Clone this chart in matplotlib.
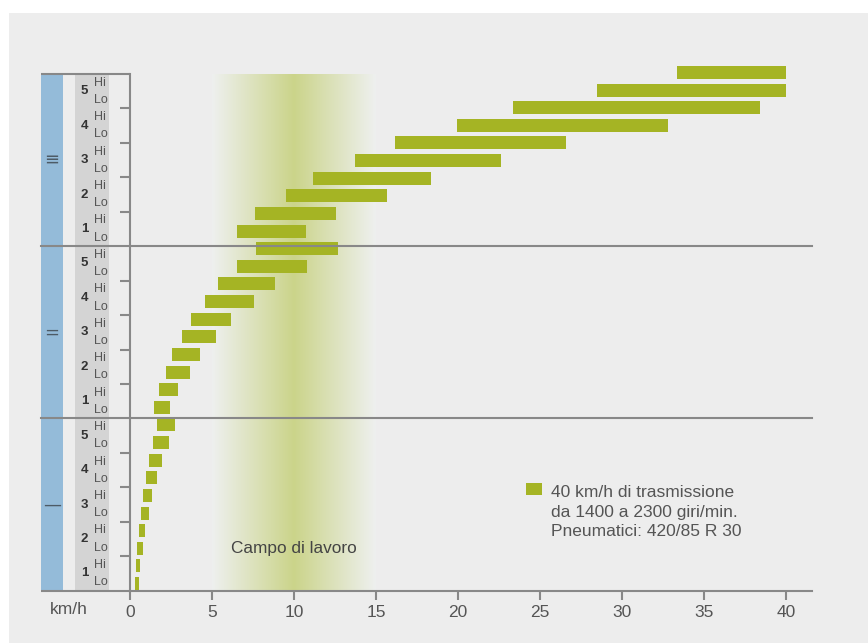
import numpy as np
import matplotlib
matplotlib.use("Agg")
import matplotlib.pyplot as plt
from matplotlib.patches import Rectangle
from matplotlib.colors import to_rgb

plt.rcParams['font.family'] = ['Liberation Sans', 'DejaVu Sans']

# velocita' (km/h) per ogni marcia, dal basso verso l'alto: gamma I, II, III; marce 1..5, Lo poi Hi
v_min = [0.30, 0.37, 0.43, 0.55, 0.67, 0.79, 0.98, 1.16, 1.40, 1.65,
         1.46, 1.77, 2.20, 2.56, 3.17, 3.72, 4.57, 5.37, 6.52, 7.68,
         6.54, 7.62, 9.50, 11.16, 13.72, 16.15, 19.94, 23.37, 28.48, 33.35]
v_max = [0.55, 0.61, 0.79, 0.91, 1.16, 1.34, 1.65, 1.95, 2.38, 2.74,
         2.44, 2.93, 3.66, 4.27, 5.24, 6.16, 7.56, 8.84, 10.79, 12.68,
         10.73, 12.56, 15.67, 18.35, 22.62, 26.60, 32.82, 38.41, 40.0, 40.0]
gamme = ['—', '=', '≡']
marce = ['1', '2', '3', '4', '5']
x_ticks = [0, 5, 10, 15, 20, 25, 30, 35, 40]
campo = (5, 10, 15)  # inizio, centro, fine del campo di lavoro
legenda = "40 km/h di trasmissione\nda 1400 a 2300 giri/min.\nPneumatici: 420/85 R 30"

verde = '#a5b424'
grigio = '#888888'
testo = '#555555'

W, H = 868, 643
fig = plt.figure(figsize=(W / 100, H / 100), dpi=100, facecolor='white')
fig.patches.append(Rectangle((9 / W, 0), 1, 1 - 13 / H, transform=fig.transFigure,
                             facecolor='#ededed', edgecolor='none', zorder=-10))

ax = fig.add_axes([130 / W, 52.3 / H, 682 / W, 516.7 / H])
ax.set_facecolor('none')
ax.set_xlim(0, 41.6)
ax.set_ylim(0, 30)

# campo di lavoro (sfumatura)
xs = np.linspace(campo[0], campo[2], 400)
t = 1 - np.abs(xs - campo[1]) / (campo[2] - campo[1])
c0 = np.array(to_rgb('#eef0ef'))
c1 = np.array(to_rgb('#cbd48a'))
grad = c0[None, :] * (1 - t[:, None]) + c1[None, :] * t[:, None]
ax.imshow(grad[None, :, :], extent=(campo[0], campo[2], 0, 30), aspect='auto',
          interpolation='bilinear', zorder=0)
ax.text(campo[1], 2.45, 'Campo di lavoro', ha='center', va='center',
        fontsize=12.4, color='#444444', zorder=3)

# barre
pos = 0.418 + np.arange(len(v_min)) * 1.0232
bars = ax.barh(pos, np.array(v_max) - np.array(v_min), left=v_min, height=0.755,
               color=verde, zorder=2)
for b in bars:
    b.set_clip_on(False)

# assi
for s in ['top', 'right']:
    ax.spines[s].set_visible(False)
for s in ['left', 'bottom']:
    ax.spines[s].set_color(grigio)
    ax.spines[s].set_linewidth(1.5)
ax.set_xticks(x_ticks)
ax.tick_params(axis='x', direction='out', length=6.5, width=1.5, color=grigio,
               labelsize=12.5, labelcolor=testo, pad=4)
ax.set_yticks([2, 4, 6, 8, 12, 14, 16, 18, 22, 24, 26, 28])
ax.set_yticklabels([])
ax.tick_params(axis='y', direction='out', length=7, width=1.5, color=grigio)

# pannello sinistro
x_left = (41 - 130) / 682
ax.add_patch(Rectangle((x_left, 0), (63 - 41) / 682, 1, transform=ax.transAxes,
                       facecolor='#94bbd9', edgecolor='none', clip_on=False, zorder=1))
ax.add_patch(Rectangle(((75 - 130) / 682, 0), (109 - 75) / 682, 1, transform=ax.transAxes,
                       facecolor='#d4d4d4', edgecolor='none', clip_on=False, zorder=1))
ax.plot([x_left, 0], [0, 0], transform=ax.transAxes, color=grigio, lw=1.5,
        clip_on=False, solid_capstyle='butt', zorder=4)
ax.plot([x_left, 0], [1, 1], transform=ax.transAxes, color=grigio, lw=1.5,
        clip_on=False, solid_capstyle='butt', zorder=4)
for y in [10, 20]:
    ax.axhline(y, xmin=x_left, xmax=1, color=grigio, lw=1.5, clip_on=False, zorder=4)

tr = ax.get_yaxis_transform()
for g, simbolo in enumerate(gamme):
    ax.text((52 - 130) / 682, 10 * g + 5, simbolo, transform=tr, ha='center', va='center',
            fontsize=13, color='#4d5b66', family=['DejaVu Sans'], clip_on=False)
    for m, nome in enumerate(marce):
        y0 = 10 * g + 2 * m
        ax.text((84.5 - 130) / 682, y0 + 1, nome, transform=tr, ha='center', va='center',
                fontsize=9.5, fontweight='bold', color='#333333')
        ax.text((94 - 130) / 682, y0 + 1.5, 'Hi', transform=tr, ha='left', va='center',
                fontsize=9, color=testo)
        ax.text((94 - 130) / 682, y0 + 0.5, 'Lo', transform=tr, ha='left', va='center',
                fontsize=9, color=testo)

fig.text(68.5 / W, 1 - 610 / H, 'km/h', ha='center', va='center', fontsize=12.5, color=testo)

# legenda
fig.patches.append(Rectangle((526 / W, 1 - 495 / H), 16 / W, 12.5 / H, transform=fig.transFigure,
                             facecolor=verde, edgecolor='none'))
fig.text(551 / W, 1 - 512 / H, legenda, ha='left', va='center', fontsize=12.5,
         color=testo, linespacing=1.4)

fig.savefig('out.png', dpi=100, facecolor=fig.get_facecolor())
